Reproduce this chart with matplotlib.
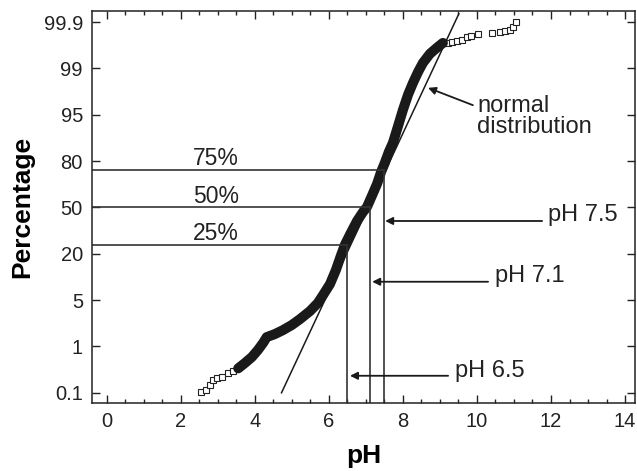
import numpy as np
import matplotlib
matplotlib.use("Agg")
import matplotlib.pyplot as plt
from statistics import NormalDist

plt.rcParams['font.family'] = ['Liberation Sans', 'DejaVu Sans']

# data (pH, cumulative percentage)
tail_lo_ph = [2.55, 2.69, 2.78, 2.87, 2.97, 3.10, 3.28, 3.41, 3.55]
tail_lo_pct = [0.104, 0.116, 0.152, 0.198, 0.22, 0.236, 0.289, 0.32, 0.36]

band_ph = [3.55, 3.73, 3.92, 4.08, 4.22, 4.32, 4.54, 4.76, 5.00, 5.22, 5.49, 5.70,
           5.86, 6.03, 6.19, 6.32, 6.43, 6.59, 6.76, 6.92, 7.03, 7.16, 7.30, 7.41,
           7.51, 7.62, 7.73, 7.86, 8.00, 8.14, 8.27, 8.41, 8.54, 8.73, 8.92, 9.08]
band_pct = [0.36, 0.466, 0.62, 0.85, 1.14, 1.43, 1.6, 1.85, 2.22, 2.72, 3.55, 4.57,
            6.19, 8.6, 13.1, 18.9, 24.8, 32.1, 40.3, 46.7, 50.4, 58.3, 66.5, 74.1,
            79.1, 84.2, 87.7, 92.4, 95.7, 97.4, 98.27, 98.86, 99.22, 99.49, 99.62, 99.70]

tail_hi_ph = [9.08, 9.22, 9.32, 9.46, 9.59, 9.73, 9.84, 10.03, 10.41, 10.62, 10.76,
              10.89, 10.97, 11.05]
tail_hi_pct = [99.70, 99.70, 99.715, 99.73, 99.74, 99.78, 99.79, 99.81, 99.82, 99.83,
               99.84, 99.85, 99.87, 99.90]

# fitted normal distribution line end points
normal_ph = [4.72, 9.51]
normal_pct = [0.1, 99.9375]

# quartile reference lines
quart_pct = [75, 50, 25]
quart_ph = [7.5, 7.1, 6.5]
quart_labels = ['75%', '50%', '25%']

ytick_pct = [0.1, 1, 5, 20, 50, 80, 95, 99, 99.9]
ytick_labels = ['0.1', '1', '5', '20', '50', '80', '95', '99', '99.9']

# probability axis: tick labels are evenly spaced, piecewise linear in z between them
nd = NormalDist()
tz = [nd.inv_cdf(p / 100) for p in ytick_pct]
idx_ext = [-6] + list(range(len(tz))) + [len(tz) + 5]
z_ext = [tz[0] - 6 * (tz[1] - tz[0])] + tz + [tz[-1] + 6 * (tz[-1] - tz[-2])]
_ppf = np.vectorize(lambda p: nd.inv_cdf(p), otypes=[float])
_cdf = np.vectorize(lambda z: nd.cdf(z), otypes=[float])


def forward(p):
    p = np.clip(np.asarray(p, dtype=float), 1e-7, 100 - 1e-7)
    return np.interp(_ppf(p / 100), z_ext, idx_ext)


def inverse(i):
    z = np.interp(np.asarray(i, dtype=float), idx_ext, z_ext)
    return _cdf(z) * 100


fig = plt.figure(figsize=(6.37, 4.71), dpi=100)
ax = fig.add_axes([0.1444, 0.1444, 0.8525, 0.8322])
ax.set_yscale('function', functions=(forward, inverse))
ax.set_xlim(-0.4, 14.27)
ax.set_ylim(float(inverse(-0.22)), float(inverse(8.24)))

mk = dict(marker='s', ms=4.8, mfc='white', mec='#222222', mew=0.8, ls='none')
ax.plot(tail_lo_ph, tail_lo_pct, **mk)
ax.plot(tail_hi_ph, tail_hi_pct, **mk)
ax.plot(band_ph, band_pct, color='#1a1a1a', lw=7.2, solid_capstyle='round',
        solid_joinstyle='round')

ax.plot(normal_ph, normal_pct, color='#1a1a1a', lw=1.1)

x0 = ax.get_xlim()[0]
ybot = ax.get_ylim()[0]
for pct, ph, lab in zip(quart_pct, quart_ph, quart_labels):
    ax.plot([x0, ph], [pct, pct], color='#333333', lw=1.2)
    ax.plot([ph, ph], [ybot, pct], color='#333333', lw=1.2)
    ax.annotate(lab, (2.95, pct), xytext=(0, 3.5), textcoords='offset points',
                ha='center', va='baseline', fontsize=16.5, color='#222222')

fs = 17
arw = dict(arrowstyle='-|>', color='#1a1a1a', lw=1.3, mutation_scale=11,
           shrinkA=0, shrinkB=0)
ax.annotate('', xy=(7.52, 40.3), xytext=(11.76, 40.3), arrowprops=arw)
ax.text(11.92, 40.3, 'pH 7.5', fontsize=fs, va='baseline', ha='left', color='#222222')
ax.annotate('', xy=(7.17, 9.24), xytext=(10.30, 9.24), arrowprops=arw)
ax.text(10.50, 9.24, 'pH 7.1', fontsize=fs, va='baseline', ha='left', color='#222222')
ax.annotate('', xy=(6.57, 0.248), xytext=(9.22, 0.248), arrowprops=arw)
ax.text(9.41, 0.235, 'pH 6.5', fontsize=fs, va='baseline', ha='left', color='#222222')
ax.annotate('', xy=(8.68, 97.94), xytext=(9.89, 96.3), arrowprops=arw)
ax.text(10.0, 95.47, 'normal', fontsize=fs, va='baseline', ha='left', color='#222222')
ax.text(10.0, 90.84, 'distribution', fontsize=fs, va='baseline', ha='left',
        color='#222222')

ax.set_yticks(ytick_pct)
ax.set_yticklabels(ytick_labels)
ax.set_xticks(range(0, 15, 2))
ax.set_xticks(np.arange(0, 14.5, 0.5), minor=True)
ax.yaxis.set_minor_locator(matplotlib.ticker.NullLocator())
ax.tick_params(which='both', direction='in', top=True, right=True, labelsize=14.5,
               width=1.0, colors='#222222', labelcolor='#222222')
ax.tick_params(which='major', length=6, pad=6.5)
ax.tick_params(which='minor', length=3)
for s in ax.spines.values():
    s.set_linewidth(1.1)
    s.set_color('#222222')

ax.set_xlabel('pH', fontsize=19, fontweight='bold', labelpad=9)
ax.set_ylabel('Percentage', fontsize=19, fontweight='bold', labelpad=7)

fig.savefig('out.png', dpi=100)
